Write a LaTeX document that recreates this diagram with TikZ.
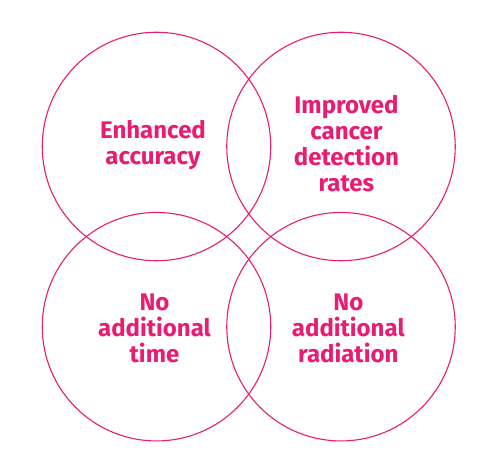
\documentclass[tikz,border=0pt]{standalone}
\usepackage{fontspec}
\newfontfamily\labelfont{Fira Sans}
\definecolor{vpink}{RGB}{232,28,114}
\begin{document}
\begin{tikzpicture}[x=1pt,y=-1pt,
  ring/.style={circle, draw=vpink, line width=1.1pt, minimum size=228.5pt, inner sep=0pt},
  lbl/.style={text=vpink, align=center, inner sep=0pt, font=\labelfont\bfseries\fontsize{24pt}{26pt}\selectfont}]
\useasboundingbox (0,0) rectangle (497,473);
\node[ring] (c1) at (156.5,146.5) {};
\node[ring] (c2) at (341,146.5) {};
\node[ring] (c3) at (156.5,326.7) {};
\node[ring] (c4) at (341,326.7) {};
\node[lbl] (t1) at (153,145) {Enhanced\\accuracy};
\node[lbl] (t2) at (346.5,144) {Improved\\cancer\\detection\\rates};
\node[lbl] (t3) at (154.5,328) {No\\additional\\time};
\node[lbl] (t4) at (348.3,328) {No\\additional\\radiation};
\end{tikzpicture}
\end{document}
